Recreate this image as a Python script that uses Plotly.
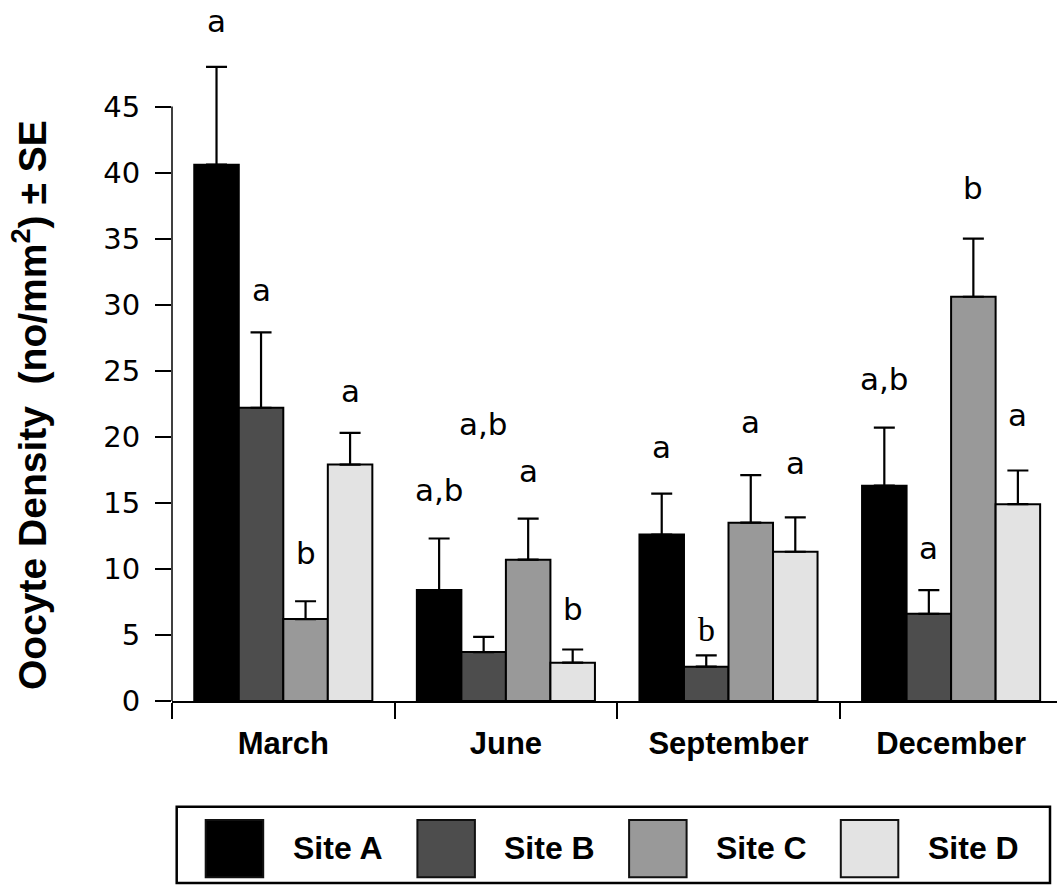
import plotly.graph_objects as go

# ---- data -----------------------------------------------------------------
months = ["March", "June", "September", "December"]
sites = ["Site A", "Site B", "Site C", "Site D"]

# mean oocyte density (no/mm^2) per site, one value per month
site_a = [40.6, 8.4, 12.6, 16.3]
site_b = [22.2, 3.7, 2.6, 6.6]
site_c = [6.2, 10.7, 13.5, 30.6]
site_d = [17.9, 2.9, 11.3, 14.9]

# standard errors
se_a = [7.4, 3.9, 3.1, 4.4]
se_b = [5.7, 1.15, 0.85, 1.8]
se_c = [1.35, 3.1, 3.6, 4.4]
se_d = [2.4, 1.0, 2.6, 2.55]

# significance letters, per site and month
letters_a = ["a", "a,b", "a", "a,b"]
letters_b = ["a", "a,b", "b", "a"]
letters_c = ["b", "a", "a", "b"]
letters_d = ["a", "b", "a", "a"]

# ---- styling / layout -----------------------------------------------------
fills = ["#000000", "#4d4d4d", "#999999", "#e3e3e3"]
SANS = "Liberation Sans, Arial, sans-serif"
WIDE = "DejaVu Sans, Verdana, sans-serif"
SERIF = "Liberation Serif, Times New Roman, serif"

W, H = 1057, 885
PL, PR, PT, PB = 172, 1057, 0, 701          # plot area in pixels
PX_PER_UNIT = 13.21                          # vertical scale
CAT_PX = 222.6                               # width of one month slot
BARGAP = 0.2

# letter heights (data units) above each bar, per site and month
letter_y = [
    [51.5, 16.0, 19.25, 24.4],
    [31.15, 21.0, 5.45, 11.6],
    [11.2, 17.4, 21.1, 38.8],
    [23.5, 7.0, 18.0, 21.65],
]
# months whose letter is set in a serif face
serif_marks = {(1, 2)}


def px_x(px):
    return (px - PL) / (PR - PL)


def px_y(py):
    return (PB - py) / (PB - PT)


means = [site_a, site_b, site_c, site_d]
errs = [se_a, se_b, se_c, se_d]
letters = [letters_a, letters_b, letters_c, letters_d]

fig = go.Figure()
for i, (name, m, e, col) in enumerate(zip(sites, means, errs, fills)):
    fig.add_trace(go.Bar(
        x=months, y=m, name=name,
        marker=dict(color=col, line=dict(color="#000000", width=2)),
        error_y=dict(type="data", array=e, arrayminus=[0] * len(e),
                     symmetric=False, color="#000000", thickness=2.2, width=10.5),
        showlegend=False,
    ))

# letters above bars
n = len(sites)
bw = (1 - BARGAP) / n
annotations = []
for i in range(n):
    off = -(1 - BARGAP) / 2 + (i + 0.5) * bw
    for j in range(len(months)):
        serif = (i, j) in serif_marks
        annotations.append(dict(
            x=j + off, y=letter_y[i][j], xref="x", yref="y",
            text=letters[i][j], showarrow=False,
            xanchor="center", yanchor="middle",
            font=dict(family=SERIF if serif else WIDE,
                      size=34 if serif else 31, color="#000000"),
        ))

# y-axis title
annotations.append(dict(
    x=px_x(30), y=px_y(405), xref="paper", yref="paper",
    text="<b>Oocyte Density\u00a0\u00a0(no/mm<sup>2</sup>) ± SE</b>",
    textangle=-90, showarrow=False, xanchor="center", yanchor="middle",
    font=dict(family=SANS, size=39, color="#000000"),
))

shapes = []
# y-axis line spanning the labelled range only
shapes.append(dict(type="line", xref="paper", yref="y", x0=0, x1=0, y0=0, y1=45,
                   line=dict(color="#000000", width=1.5)))

# legend box with swatches
shapes.append(dict(type="rect", xref="paper", yref="paper",
                   x0=px_x(176.7), x1=px_x(1050), y0=px_y(806.7), y1=px_y(883),
                   line=dict(color="#000000", width=2.5), fillcolor="rgba(0,0,0,0)"))
ITEM_STEP = 211.7
for i, (name, col) in enumerate(zip(sites, fills)):
    sx = 205.7 + i * ITEM_STEP
    shapes.append(dict(type="rect", xref="paper", yref="paper",
                       x0=px_x(sx), x1=px_x(sx + 57.5), y0=px_y(820), y1=px_y(877.3),
                       line=dict(color="#111111", width=2), fillcolor=col))
    annotations.append(dict(
        x=px_x(sx + 85), y=px_y(848), xref="paper", yref="paper",
        text=f"<b>{name}</b>", showarrow=False, xanchor="left", yanchor="middle",
        font=dict(family=SANS, size=32, color="#000000"),
    ))

fig.update_layout(
    width=W, height=H,
    margin=dict(l=PL, r=W - PR, t=PT, b=H - PB, pad=0),
    paper_bgcolor="#ffffff", plot_bgcolor="#ffffff",
    barmode="group", bargap=BARGAP, bargroupgap=0,
    showlegend=False,
    annotations=annotations, shapes=shapes,
    xaxis=dict(
        type="category", range=[-0.5, -0.5 + (PR - PL) / CAT_PX],
        showline=True, linecolor="#000000", linewidth=1.5,
        ticks="outside", tickson="boundaries", ticklen=16, tickwidth=1.5,
        tickcolor="#000000", showgrid=False, zeroline=False,
        tickfont=dict(family=SANS, size=31, color="#000000", weight="bold"),
        ticklabelstandoff=14,
    ),
    yaxis=dict(
        range=[0, (PB - PT) / PX_PER_UNIT],
        tickvals=list(range(0, 46, 5)),
        showline=False, ticks="outside", ticklen=16, tickwidth=1.5,
        tickcolor="#000000", showgrid=False, zeroline=False,
        tickfont=dict(family=WIDE, size=29, color="#000000"),
        ticklabelstandoff=9,
    ),
)

fig.write_html("out.html")
